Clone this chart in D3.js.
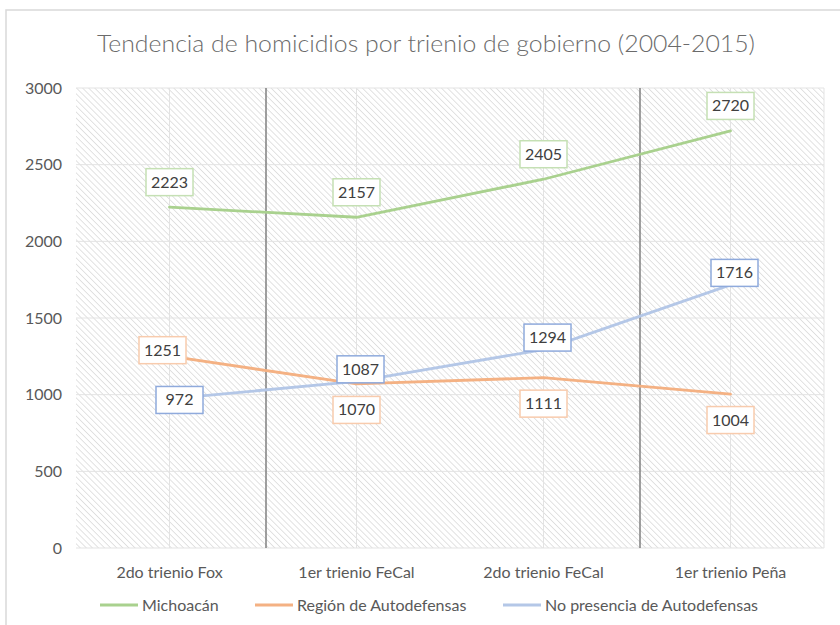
<!DOCTYPE html>
<html lang="es">
<head>
<meta charset="UTF-8">
<title>Tendencia de homicidios</title>
<script src="https://d3js.org/d3.v7.min.js"></script>
<style>
  body { margin: 0; background: #fff; }
  text { font-family: Lato, "Open Sans", sans-serif; fill: #595959; }
</style>
</head>
<body>
<svg width="840" height="625"></svg>
<script>
const categories = ["2do trienio Fox", "1er trienio FeCal", "2do trienio FeCal", "1er trienio Peña"];
const michoacan = [2223, 2157, 2405, 2720];
const region = [1251, 1070, 1111, 1004];
const noPresencia = [972, 1087, 1294, 1716];
const yTicks = [0, 500, 1000, 1500, 2000, 2500, 3000];

const series = [
  { name: "Michoacán", values: michoacan, line: "#a9d18e", box: "#c5e0b4", place: ["above", "above", "above", "above"] },
  { name: "Región de Autodefensas", values: region, line: "#f4b183", box: "#f8cbad", place: ["leftup", "below", "below", "below"] },
  { name: "No presencia de Autodefensas", values: noPresencia, line: "#b4c7e7", box: "#8faadc", place: ["center", "near", "near", "near"] }
];

const svg = d3.select("svg");
const m = { left: 76, right: 824, top: 88, bottom: 548 };

const x = d3.scaleBand().domain(categories).range([m.left, m.right]);
const y = d3.scaleLinear().domain([0, 3000]).range([m.bottom, m.top]);
const cx = c => x(c) + x.bandwidth() / 2;

// outer border
svg.append("rect").attr("x", 6).attr("y", 10).attr("width", 840).attr("height", 640)
  .attr("fill", "none").attr("stroke", "#d9d9d9").attr("stroke-width", 1.5);

// hatch pattern
const defs = svg.append("defs");
defs.append("pattern").attr("id", "hatch").attr("patternUnits", "userSpaceOnUse")
  .attr("width", 4.3).attr("height", 4.3).attr("patternTransform", "rotate(-45)")
  .append("line").attr("x1", 0).attr("y1", 0).attr("x2", 0).attr("y2", 4.3)
  .attr("stroke", "#d0d0d0").attr("stroke-width", 1.2);

svg.append("rect").attr("x", m.left).attr("y", m.top)
  .attr("width", m.right - m.left).attr("height", m.bottom - m.top)
  .attr("fill", "url(#hatch)");

// title
svg.append("text").attr("x", 426).attr("y", 52).attr("text-anchor", "middle")
  .attr("font-size", 24).attr("font-weight", 300).style("fill", "#6b6b6b")
  .attr("textLength", 658).attr("lengthAdjust", "spacingAndGlyphs")
  .text("Tendencia de homicidios por trienio de gobierno (2004-2015)");

// gridlines
svg.append("g").selectAll("line").data(yTicks).join("line")
  .attr("x1", m.left).attr("x2", m.right).attr("y1", d => y(d)).attr("y2", d => y(d))
  .attr("stroke", "#e3e3e3").attr("stroke-width", 1);
svg.append("g").selectAll("line").data(categories).join("line")
  .attr("x1", cx).attr("x2", cx).attr("y1", m.top).attr("y2", m.bottom)
  .attr("stroke", "#e3e3e3").attr("stroke-width", 1);
svg.append("line").attr("x1", m.right).attr("x2", m.right).attr("y1", m.top).attr("y2", m.bottom)
  .attr("stroke", "#e3e3e3");

// separators between governments
[categories[1], categories[3]].forEach(c => {
  svg.append("line").attr("x1", x(c) + 3).attr("x2", x(c) + 3).attr("y1", m.top).attr("y2", m.bottom)
    .attr("stroke", "#7f7f7f").attr("stroke-width", 1.5);
});

// y axis labels
svg.append("g").selectAll("text").data(yTicks).join("text")
  .attr("x", 62).attr("y", d => y(d) + 5.5).attr("text-anchor", "end")
  .attr("font-size", 16).text(d => d);

// x axis labels
svg.append("g").selectAll("text").data(categories).join("text")
  .attr("x", cx).attr("y", 578).attr("text-anchor", "middle")
  .attr("font-size", 16).text(d => d);

// lines
const line = d3.line().x((d, i) => cx(categories[i])).y(d => y(d));
series.forEach(s => {
  svg.append("path").datum(s.values).attr("d", line)
    .attr("fill", "none").attr("stroke", s.line).attr("stroke-width", 2.8)
    .attr("stroke-linecap", "round");
});

// data labels
const offsets = {
  above: [0, -25], below: [0, 26], leftup: [-7, -6], center: [10, 1], near: [4, -12]
};
series.forEach(s => {
  s.values.forEach((v, i) => {
    const [dx, dy] = offsets[s.place[i]];
    const px = cx(categories[i]) + dx, py = y(v) + dy;
    const w = 47, h = 27;
    svg.append("rect").attr("x", px - w / 2).attr("y", py - h / 2).attr("width", w).attr("height", h)
      .attr("fill", "#fff").attr("stroke", s.box).attr("stroke-width", 1.5);
    svg.append("text").attr("x", px).attr("y", py + 5.5).attr("text-anchor", "middle")
      .attr("font-size", 16).style("fill", "#404040").text(v);
  });
});

// legend
const legendX = [100, 255, 503];
series.forEach((s, i) => {
  svg.append("line").attr("x1", legendX[i]).attr("x2", legendX[i] + 38)
    .attr("y1", 605).attr("y2", 605).attr("stroke", s.line).attr("stroke-width", 2.8);
  svg.append("text").attr("x", legendX[i] + 42).attr("y", 610.5)
    .attr("font-size", 16).text(s.name);
});
</script>
</body>
</html>
